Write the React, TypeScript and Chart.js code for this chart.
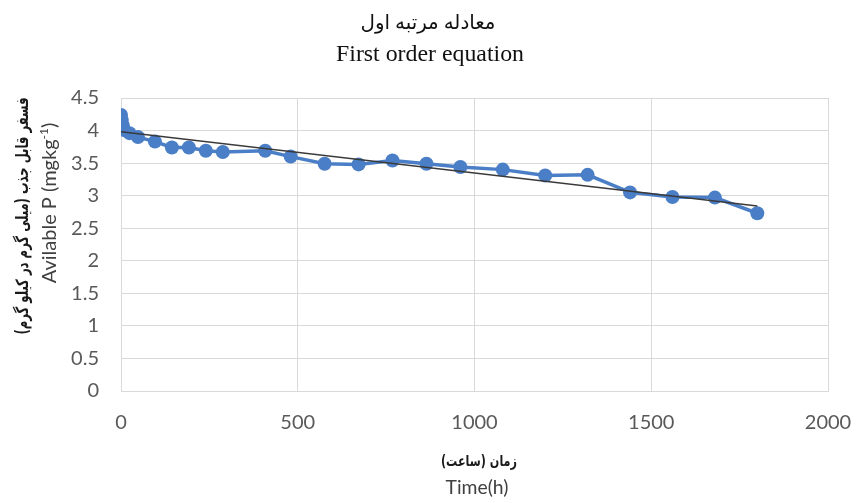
import React, { useEffect, useRef } from "react";
import { Chart, registerables } from "chart.js";

Chart.register(...registerables);

// ---- Data ----
const timeHours = [0, 2, 5, 8, 24, 48, 96, 144, 192, 240, 288, 408, 480, 576, 672, 768, 864, 960, 1080, 1200, 1320, 1440, 1560, 1680, 1800];
const availableP = [4.24, 4.16, 4.08, 4.01, 3.96, 3.9, 3.83, 3.74, 3.74, 3.69, 3.67, 3.69, 3.6, 3.49, 3.48, 3.54, 3.49, 3.44, 3.4, 3.31, 3.32, 3.05, 2.98, 2.97, 2.73];
const trendTime = [0, 1800];
const trendP = [3.98, 2.84];

const titleFa = "معادله مرتبه اول";
const titleEn = "First order equation";
const yTitleFa = "فسفر قابل جذب (میلی گرم در کیلو گرم)";
const yTitleEnMain = "Avilable P (mgkg";
const yTitleEnSup = "-1";
const yTitleEnEnd = ")";
const xTitleFa = "زمان (ساعت)";
const xTitleEn = "Time(h)";

const xTicks = [0, 500, 1000, 1500, 2000];
const yMax = 4.5;
const yStep = 0.5;

const SANS = '"Lato", "Open Sans", "DejaVu Sans", sans-serif';
const SERIF = '"Liberation Serif", "DejaVu Serif", serif';
const ARABIC = '"DejaVu Sans", "Noto Sans", sans-serif';

function fitFont(ctx: CanvasRenderingContext2D, text: string, weight: string, family: string, target: number) {
  let size = 16;
  ctx.font = `${weight} ${size}px ${family}`;
  const w = ctx.measureText(text).width;
  if (w > 0) size = size * (target / w);
  ctx.font = `${weight} ${size}px ${family}`;
  return size;
}

// draw text at a fixed font size, squeezed horizontally to a target width
function drawSqueezed(ctx: CanvasRenderingContext2D, text: string, font: string, target: number) {
  ctx.font = font;
  const w = ctx.measureText(text).width;
  const s = w > 0 ? target / w : 1;
  ctx.save();
  ctx.scale(s, 1);
  ctx.fillText(text, 0, 0);
  ctx.restore();
}

const textPlugin = {
  id: "customTexts",
  afterDraw(chart: any) {
    const ctx: CanvasRenderingContext2D = chart.ctx;
    ctx.save();
    ctx.textAlign = "center";
    ctx.textBaseline = "middle";

    // Chart titles
    ctx.fillStyle = "#111";
    fitFont(ctx, titleFa, "normal", SERIF + ", " + ARABIC, 135);
    ctx.fillText(titleFa, 428, 24);
    fitFont(ctx, titleEn, "normal", SERIF, 188);
    ctx.fillText(titleEn, 430, 55);

    // X axis titles
    ctx.save();
    ctx.translate(479, 462);
    ctx.fillStyle = "#1a1a1a";
    drawSqueezed(ctx, xTitleFa, `bold 15px ${ARABIC}`, 76);
    ctx.restore();
    ctx.fillStyle = "#404040";
    fitFont(ctx, xTitleEn, "normal", SANS, 63);
    ctx.fillText(xTitleEn, 477, 488);

    // Y axis titles (rotated)
    ctx.save();
    ctx.translate(24, 216);
    ctx.rotate(-Math.PI / 2);
    ctx.fillStyle = "#1a1a1a";
    drawSqueezed(ctx, yTitleFa, `bold 17px ${ARABIC}`, 237);
    ctx.restore();

    ctx.save();
    ctx.translate(50, 203);
    ctx.rotate(-Math.PI / 2);
    ctx.fillStyle = "#404040";
    ctx.textAlign = "left";
    const mainSize = 20;
    const supSize = 12;
    ctx.font = `normal ${mainSize}px ${SANS}`;
    const wMain = ctx.measureText(yTitleEnMain).width;
    const wEnd = ctx.measureText(yTitleEnEnd).width;
    ctx.font = `normal ${supSize}px ${SANS}`;
    const wSup = ctx.measureText(yTitleEnSup).width;
    const total = wMain + wSup + wEnd;
    let x = -total / 2;
    ctx.font = `normal ${mainSize}px ${SANS}`;
    ctx.fillText(yTitleEnMain, x, 0);
    x += wMain;
    ctx.font = `normal ${supSize}px ${SANS}`;
    ctx.fillText(yTitleEnSup, x, -6);
    x += wSup;
    ctx.font = `normal ${mainSize}px ${SANS}`;
    ctx.fillText(yTitleEnEnd, x, 0);
    ctx.restore();

    ctx.restore();
  },
};

export default function App() {
  const canvasRef = useRef<HTMLCanvasElement | null>(null);

  useEffect(() => {
    document.body.style.margin = "0";
    const canvas = canvasRef.current;
    if (!canvas) return;

    const points = timeHours.map((t, i) => ({ x: t, y: availableP[i] }));
    const trend = trendTime.map((t, i) => ({ x: t, y: trendP[i] }));

    const chart = new Chart(canvas, {
      type: "scatter",
      data: {
        datasets: [
          {
            label: "trend",
            data: trend,
            showLine: true,
            borderColor: "#3a3a3a",
            borderWidth: 1.5,
            pointRadius: 0,
            pointHoverRadius: 0,
          },
          {
            label: "Available P",
            data: points,
            showLine: true,
            borderColor: "#4a7ec6",
            backgroundColor: "#4a7ec6",
            borderWidth: 3.5,
            pointRadius: 7,
            pointBorderWidth: 0,
            pointBackgroundColor: "#4a7ec6",
          },
        ],
      },
      options: {
        responsive: false,
        animation: false,
        layout: { padding: { top: 98, right: 28, left: 0, bottom: 0 } },
        plugins: {
          legend: { display: false },
          title: { display: false },
          tooltip: { enabled: false },
        },
        scales: {
          x: {
            type: "linear",
            min: xTicks[0],
            max: xTicks[xTicks.length - 1],
            afterBuildTicks: (scale: any) => {
              scale.ticks = xTicks.map((v) => ({ value: v }));
            },
            afterFit: (scale: any) => {
              scale.height = 112;
              scale.paddingLeft = 0;
              scale.paddingRight = 0;
            },
            ticks: {
              color: "#595959",
              font: { family: SANS, size: 20 },
              padding: 20,
              callback: (v: any) => String(v),
              maxRotation: 0,
            },
            grid: { color: "#d9d9d9", drawTicks: false, lineWidth: 1 },
            border: { color: "#d9d9d9" },
          },
          y: {
            type: "linear",
            min: 0,
            max: yMax,
            ticks: {
              stepSize: yStep,
              color: "#595959",
              font: { family: SANS, size: 20 },
              padding: 22,
              callback: (v: any) => String(v),
            },
            afterFit: (scale: any) => {
              scale.width = 121;
              scale.paddingTop = 0;
              scale.paddingBottom = 0;
            },
            grid: { color: "#d9d9d9", drawTicks: false, lineWidth: 1 },
            border: { color: "#d9d9d9" },
          },
        },
      },
      plugins: [textPlugin],
    });

    return () => chart.destroy();
  }, []);

  return (
    <div style={{ width: 856, height: 503, background: "#fff" }}>
      <canvas ref={canvasRef} width={856} height={503} />
    </div>
  );
}
